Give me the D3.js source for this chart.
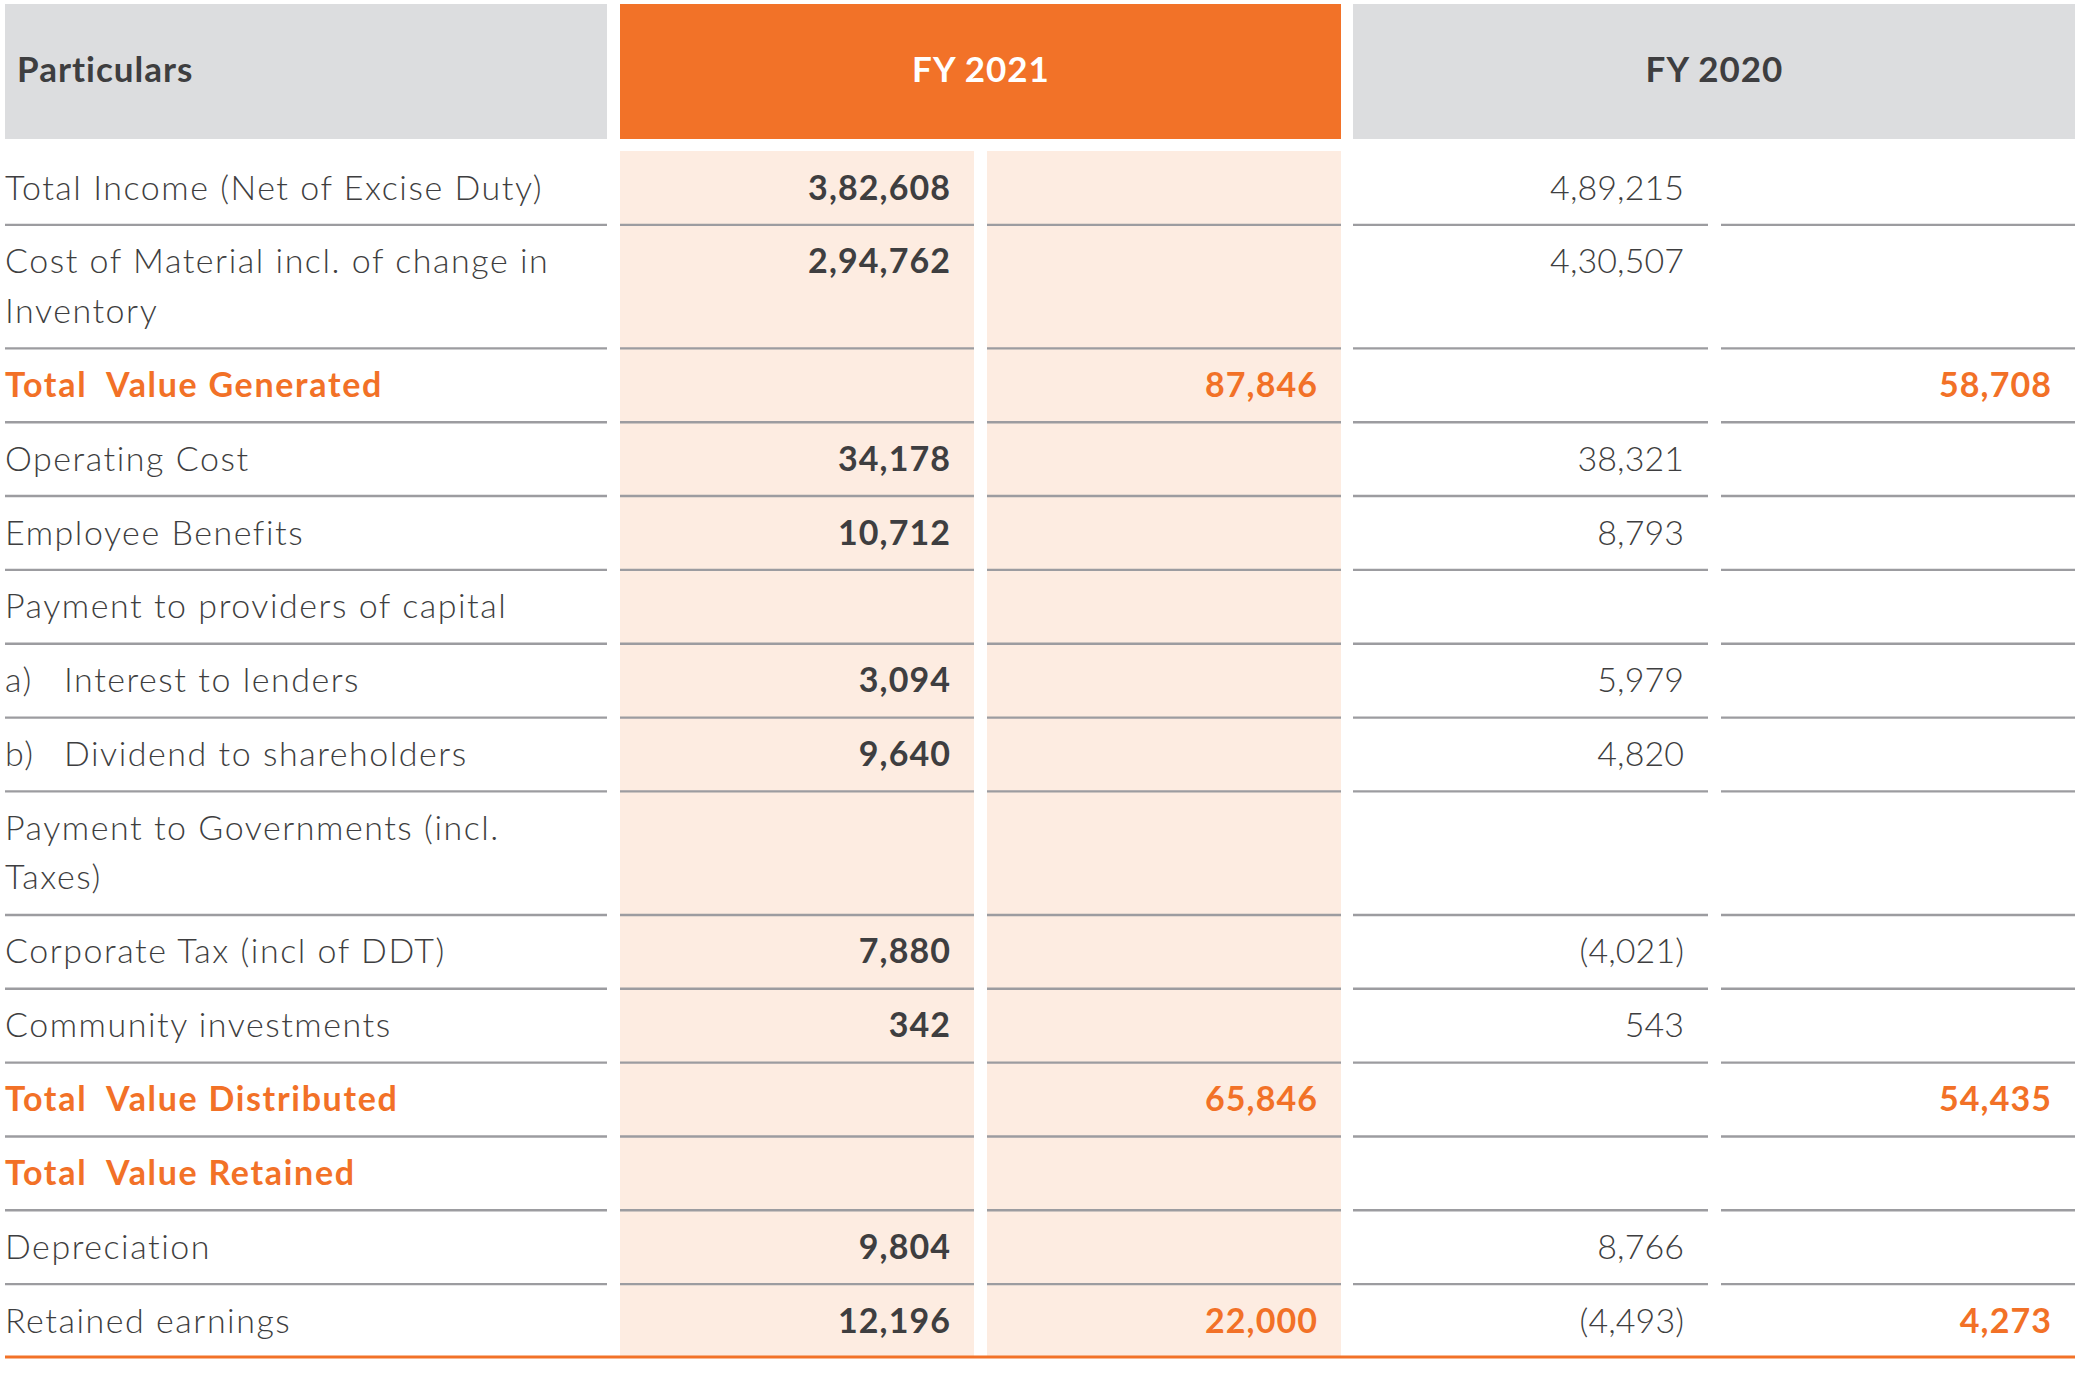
<!DOCTYPE html>
<html>
<head>
<meta charset="utf-8">
<script src="https://cdn.jsdelivr.net/npm/d3@7"></script>
<style>
  html, body { margin: 0; padding: 0; background: #ffffff; }
  svg { display: block; }
  text { font-family: Lato, "Noto Sans", sans-serif; }
</style>
</head>
<body>
<svg id="chart" width="2082" height="1378"></svg>
<script>
// ---------------- DATA ----------------
const headers = ["Particulars", "FY 2021", "FY 2020"];

const particulars = [
  "Total Income (Net of Excise Duty)",
  "Cost of Material incl. of change in\nInventory",
  "Total  Value Generated",
  "Operating Cost",
  "Employee Benefits",
  "Payment to providers of capital",
  "a)\tInterest to lenders",
  "b)\tDividend to shareholders",
  "Payment to Governments (incl.\nTaxes)",
  "Corporate Tax (incl of DDT)",
  "Community investments",
  "Total  Value Distributed",
  "Total  Value Retained",
  "Depreciation",
  "Retained earnings"
];

// rows that are highlighted totals
const totalRows = [false, false, true, false, false, false, false, false, false, false, false, true, true, false, false];

// FY 2021: item values and totals
const fy2021Items  = [382608, 294762, null, 34178, 10712, null, 3094, 9640, null, 7880, 342, null, null, 9804, 12196];
const fy2021Totals = [null, null, 87846, null, null, null, null, null, null, null, null, 65846, null, null, 22000];

// FY 2020: item values and totals
const fy2020Items  = [489215, 430507, null, 38321, 8793, null, 5979, 4820, null, -4021, 543, null, null, 8766, -4493];
const fy2020Totals = [null, null, 58708, null, null, null, null, null, null, null, null, 54435, null, null, 4273];

// ---------------- STYLE ----------------
const C = {
  orange: "#F27228",
  orangeText: "#F27127",
  shade: "#FDECE1",
  headGray: "#DCDDDF",
  line: "#9C9CA0",
  text: "#3E3E40"
};

// Indian number grouping, negatives in parentheses
function fmt(v) {
  if (v === null || v === undefined) return "";
  const neg = v < 0;
  let s = String(Math.abs(v));
  let out;
  if (s.length <= 3) out = s;
  else {
    const last3 = s.slice(-3);
    let rest = s.slice(0, -3);
    const parts = [];
    while (rest.length > 2) { parts.unshift(rest.slice(-2)); rest = rest.slice(0, -2); }
    if (rest.length) parts.unshift(rest);
    out = parts.join(",") + "," + last3;
  }
  return neg ? "(" + out + ")" : out;
}

const svg = d3.select("#chart");

// measure helper to size fonts / letter spacing
function measure(str, weight, size) {
  const t = svg.append("text").attr("font-weight", weight).attr("font-size", size)
    .style("white-space", "pre").text(str);
  const w = t.node().getComputedTextLength();
  t.remove();
  return w;
}
function fitSpacing(str, weight, size, target) {
  const w = measure(str, weight, size);
  return Math.max(-0.5, Math.min(2.5, (target - w) / str.length));
}
const labelWeight = 300;
const labelSize = 34;
const headSize = 35;
const lsLabel = fitSpacing("Total Income (Net of Excise Duty)", labelWeight, labelSize, 538);
const lsLabelBold = fitSpacing("Total  Value Generated", 700, labelSize, 378);
const lsNumBold = fitSpacing("3,82,608", 700, labelSize, 143);
const lsNumLight = fitSpacing("4,89,215", labelWeight, labelSize, 134);
const lsHead = fitSpacing("Particulars", 700, headSize, 177);

// ---------------- SCALES ----------------
// columns: label, fy21 item, fy21 total, fy20 item, fy20 total
const colKeys = ["label", "a21", "b21", "a20", "b20"];
const colLeft = d3.scaleOrdinal().domain(colKeys).range([5, 620, 987, 1353, 1721]);
const colRight = d3.scaleOrdinal().domain(colKeys).range([607, 974, 1341, 1708, 2075]);

// vertical: cumulative row units
const lineCounts = particulars.map(p => p.split("\n").length);
const rowUnits = lineCounts.map(n => 1 + (n - 1) * 0.6725);
const cum = [0];
rowUnits.forEach(u => cum.push(cum[cum.length - 1] + u));
const y = d3.scaleLinear().domain([0, cum[cum.length - 1]]).range([151, 1358]);

// ---------------- HEADER ----------------
const headTop = 4, headBottom = 139;
const headSpans = [
  {text: headers[0], x0: colLeft("label"), x1: colRight("label"), fill: C.headGray, color: C.text, anchor: "start"},
  {text: headers[1], x0: colLeft("a21"), x1: colRight("b21"), fill: C.orange, color: "#FFFFFF", anchor: "middle"},
  {text: headers[2], x0: colLeft("a20"), x1: colRight("b20"), fill: C.headGray, color: C.text, anchor: "middle"}
];
const hg = svg.append("g");
hg.selectAll("rect").data(headSpans).join("rect")
  .attr("x", d => d.x0).attr("y", headTop)
  .attr("width", d => d.x1 - d.x0).attr("height", headBottom - headTop)
  .attr("fill", d => d.fill);
hg.selectAll("text").data(headSpans).join("text")
  .attr("x", d => d.anchor === "start" ? d.x0 + 12 : (d.x0 + d.x1) / 2 + lsHead / 2)
  .attr("y", 82)
  .attr("text-anchor", d => d.anchor)
  .attr("font-size", headSize)
  .attr("font-weight", 700)
  .attr("letter-spacing", lsHead)
  .attr("fill", d => d.color)
  .text(d => d.text);

// ---------------- SHADING (FY 2021) ----------------
svg.append("g").selectAll("rect").data(["a21", "b21"]).join("rect")
  .attr("x", k => colLeft(k)).attr("y", y(0))
  .attr("width", k => colRight(k) - colLeft(k))
  .attr("height", y(cum[cum.length - 1]) - y(0))
  .attr("fill", C.shade);

// ---------------- ROW LINES ----------------
const lg = svg.append("g");
const nRows = particulars.length;
for (let i = 0; i < nRows - 1; i++) {
  colKeys.forEach(k => {
    lg.append("line")
      .attr("x1", colLeft(k)).attr("x2", colRight(k))
      .attr("y1", y(cum[i + 1])).attr("y2", y(cum[i + 1]))
      .attr("stroke", C.line).attr("stroke-width", 2.4);
  });
}
// bottom orange rule
lg.append("line")
  .attr("x1", colLeft("label")).attr("x2", colRight("b20"))
  .attr("y1", y(cum[nRows]) - 1).attr("y2", y(cum[nRows]) - 1)
  .attr("stroke", C.orange).attr("stroke-width", 3);

// ---------------- CELL TEXT ----------------
const tg = svg.append("g");
const lineStep = 49.5;
const firstBase = 48.5;

particulars.forEach((p, i) => {
  const top = y(cum[i]);
  const isTotal = totalRows[i];
  const lines = p.split("\n");
  lines.forEach((ln, j) => {
    const t = tg.append("text")
      .attr("x", colLeft("label"))
      .attr("y", top + firstBase + j * lineStep)
      .attr("font-size", labelSize)
      .attr("font-weight", isTotal ? 700 : labelWeight)
      .attr("letter-spacing", isTotal ? lsLabelBold : lsLabel)
      .attr("fill", isTotal ? C.orangeText : C.text)
      .style("white-space", "pre");
    if (ln.indexOf("\t") >= 0) {
      const [pre, rest] = ln.split("\t");
      t.append("tspan").attr("x", colLeft("label")).text(pre);
      t.append("tspan").attr("x", colLeft("label") + 59).text(rest);
    } else {
      t.text(ln);
    }
  });

  const cells = [
    {k: "a21", v: fy2021Items[i], w: 700, c: C.text, ls: lsNumBold},
    {k: "b21", v: fy2021Totals[i], w: 700, c: C.orangeText, ls: lsNumBold},
    {k: "a20", v: fy2020Items[i], w: labelWeight, c: C.text, ls: lsNumLight},
    {k: "b20", v: fy2020Totals[i], w: 700, c: C.orangeText, ls: lsNumBold}
  ];
  cells.forEach(cell => {
    if (cell.v === null) return;
    tg.append("text")
      .attr("x", colRight(cell.k) - 24 + cell.ls)
      .attr("y", top + firstBase)
      .attr("text-anchor", "end")
      .attr("font-size", labelSize)
      .attr("font-weight", cell.w)
      .attr("letter-spacing", cell.ls)
      .attr("fill", cell.c)
      .text(fmt(cell.v));
  });
});
</script>
</body>
</html>
